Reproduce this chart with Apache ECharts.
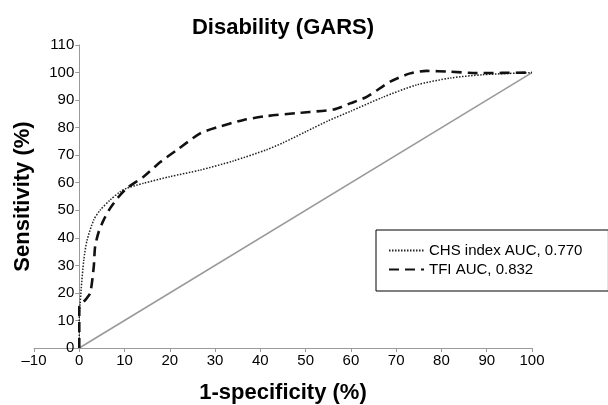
<!DOCTYPE html>
<html>
<head>
<meta charset="utf-8">
<script src="https://cdn.jsdelivr.net/npm/echarts@6/dist/echarts.min.js"></script>
<style>html,body{margin:0;padding:0;background:#fff;}#c{width:608px;height:405px;}</style>
</head>
<body>
<div id="c"></div>
<script>
var titleText = 'Disability (GARS)';
var xName = '1-specificity (%)';
var yName = 'Sensitivity (%)';
var seriesNames = ['CHS index AUC, 0.770', 'TFI AUC, 0.832'];

var chsX = [0, 0, 0.2, 0.4, 1, 1.7, 3.2, 4.6, 6.8, 9, 10.5, 14.2, 20, 26.7, 34, 41.4, 45, 50, 55, 60, 67, 74.5, 82, 89, 100];
var chsY = [0, 12, 16, 21, 32, 39, 46.5, 50, 53.7, 56.7, 58, 59.8, 62.2, 64.6, 67.9, 72, 74.5, 78.5, 82.5, 86, 91, 95.5, 98, 99.2, 100];

var tfiX = [0, 0, 1.3, 2.4, 3.2, 3.5, 4.3, 5.4, 6.8, 8.7, 10.5, 14.2, 17.9, 21.5, 26.7, 30.4, 36.3, 41.4, 48.8, 56.2, 59.8, 63.5, 68.7, 73.1, 76.7, 81.9, 87.8, 100];
var tfiY = [0, 15, 17.4, 19.9, 29.5, 36.8, 42.2, 46.5, 50.7, 54.9, 58, 62.2, 67.5, 71.8, 77.9, 80.1, 82.8, 84.2, 85.4, 86.6, 88.8, 91.2, 96.7, 99.7, 100.6, 100.3, 99.8, 100];

var refX = [0, 100];
var refY = [0, 100];

function pairs(xs, ys) { return xs.map(function (x, i) { return [x, ys[i]]; }); }

var gridLeft = 34, gridRight = 76;
var xMin = -10, xMax = 100;
// shift the y axis from the grid's left edge to x = 0
var yOffset = -(0 - xMin) / (xMax - xMin) * (608 - gridLeft - gridRight);

var chart = echarts.init(document.getElementById('c'), null, {renderer: 'canvas'});
var font = 'Liberation Sans, Arial, sans-serif';
chart.setOption({
  backgroundColor: '#fff',
  animation: false,
  textStyle: {fontFamily: font},
  title: {
    text: titleText, left: 283, top: 17, padding: 0, textAlign: 'center',
    textStyle: {fontSize: 22, fontWeight: 'bold', color: '#000', fontFamily: font}
  },
  grid: {left: gridLeft, right: gridRight, top: 45, bottom: 57, containLabel: false, outerBoundsMode: 'none'},
  legend: {
    orient: 'vertical', left: 376, top: 230, align: 'left',
    padding: [13, 26, 14, 12], itemGap: 4, itemWidth: 35, itemHeight: 14,
    borderColor: '#000', borderWidth: 1,
    itemStyle: {opacity: 0},
    data: seriesNames,
    textStyle: {fontSize: 15, color: '#000', fontFamily: font, padding: [0, 0, 0, 0]}
  },
  xAxis: {
    type: 'value', min: xMin, max: xMax, interval: 10,
    name: xName, nameLocation: 'middle', nameGap: 34,
    nameTextStyle: {fontSize: 22, fontWeight: 'bold', color: '#000', fontFamily: font},
    axisLine: {onZero: false, lineStyle: {color: '#9a9a9a', width: 1}},
    axisTick: {length: 4, lineStyle: {color: '#9a9a9a'}},
    axisLabel: {fontSize: 15, color: '#000', margin: 5, formatter: function (v) { return String(v).replace('-', '\u2013'); }},
    splitLine: {show: false}
  },
  yAxis: {
    type: 'value', min: 0, max: 110, interval: 10, offset: yOffset,
    name: yName, nameLocation: 'middle', nameGap: 45,
    nameTextStyle: {fontSize: 22, fontWeight: 'bold', color: '#000', fontFamily: font},
    axisLine: {onZero: false, lineStyle: {color: '#9a9a9a', width: 1}},
    axisTick: {length: 4, lineStyle: {color: '#9a9a9a'}},
    axisLabel: {fontSize: 15, color: '#000', margin: 5},
    splitLine: {show: false}
  },
  series: [
    {
      name: 'ref', type: 'line', data: pairs(refX, refY), symbol: 'none', silent: true,
      lineStyle: {color: '#999999', width: 1.5}
    },
    {
      name: seriesNames[0], type: 'line', data: pairs(chsX, chsY), symbol: 'none', smooth: 0.25,
      lineStyle: {color: '#222', width: 1.5, type: [1.5, 1.5]},
      itemStyle: {color: '#222'}
    },
    {
      name: seriesNames[1], type: 'line', data: pairs(tfiX, tfiY), symbol: 'none', smooth: 0.25,
      lineStyle: {color: '#111', width: 2.6, type: [10, 6]},
      itemStyle: {color: '#111'}
    }
  ]
});
</script>
</body>
</html>
